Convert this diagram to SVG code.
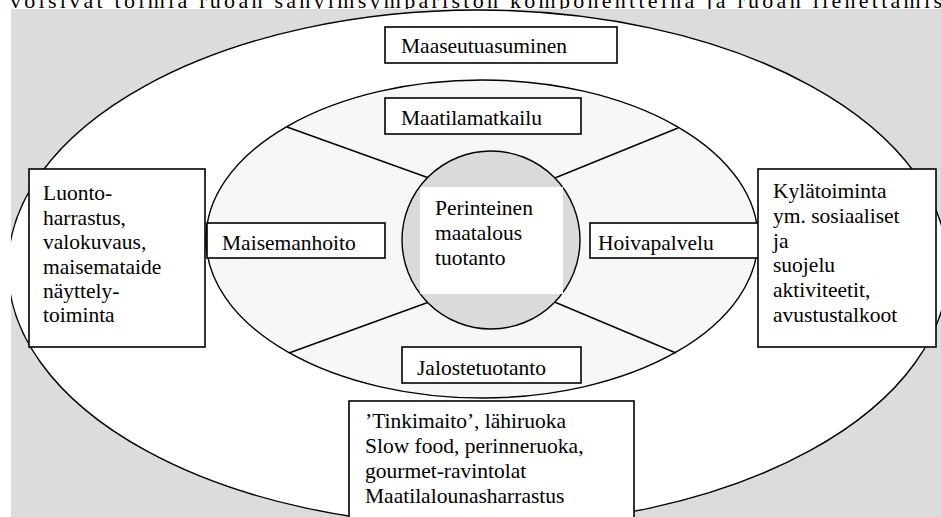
<svg xmlns="http://www.w3.org/2000/svg" width="941" height="517" viewBox="0 0 941 517" font-family="'Liberation Serif', 'Times New Roman', serif">
<defs>
<style>
text{font-family:"Liberation Serif","Times New Roman",serif;font-size:21.5px;fill:#000}
.box{fill:#fff;stroke:#000;stroke-width:1.6}
.ring{stroke:#000;stroke-width:1.4}
.spoke{stroke:#000;stroke-width:1.4;fill:none}
</style>
<clipPath id="pg"><rect x="11" y="9" width="930" height="508"/></clipPath>
</defs>
<rect width="941" height="517" fill="#fff"/>
<text x="10" y="8" style="font-size:22px" textLength="945" lengthAdjust="spacing">voisivat toimia ruoan sähyimsympäristön komponentteina ja ruoan lienettamise</text>
<rect x="11" y="9" width="930" height="508" fill="#dcdcdc"/>
<g clip-path="url(#pg)">
<g id="outer"><ellipse cx="478" cy="268" rx="470" ry="258" fill="#fff" class="ring"/></g>
<g id="maaseutuasuminen"><rect x="385" y="27" width="232" height="36" class="box"/><text x="401" y="53">Maaseutuasuminen</text></g>
<g id="inner"><ellipse cx="482" cy="239" rx="276" ry="159" fill="#f7f7f7" class="ring"/></g>
<g id="connectors">
<line x1="287" y1="127" x2="440" y2="182" class="spoke"/>
<line x1="678" y1="128" x2="545" y2="182" class="spoke"/>
<line x1="289" y1="353" x2="440" y2="298" class="spoke"/>
<line x1="676" y1="353" x2="545" y2="298" class="spoke"/>
</g>
<g id="maatilamatkailu"><rect x="385" y="98" width="196" height="36" class="box"/><text x="401" y="125">Maatilamatkailu</text></g>
<g id="jalostetuotanto"><rect x="402" y="347" width="179" height="36" class="box"/><text x="417" y="375">Jalostetuotanto</text></g>
<g id="maisemanhoito"><rect x="207" y="223" width="178" height="35" class="box"/><text x="222" y="250">Maisemanhoito</text></g>
<g id="hoivapalvelu"><rect x="590" y="223" width="170" height="35" class="box"/><text x="598" y="250">Hoivapalvelu</text></g>
<g id="core">
<circle cx="491" cy="240" r="89" fill="#dadada" class="ring"/>
<rect x="420" y="187" width="143" height="107" fill="#fff"/>
<text x="435" y="215">Perinteinen</text>
<text x="435" y="240">maatalous</text>
<text x="435" y="265">tuotanto</text>
</g>
<g id="luonto">
<rect x="29" y="169" width="176" height="178" class="box"/>
<text x="43" y="200">Luonto-</text>
<text x="43" y="224.5">harrastus,</text>
<text x="43" y="249">valokuvaus,</text>
<text x="43" y="273.5">maisemataide</text>
<text x="43" y="298">näyttely-</text>
<text x="43" y="322">toiminta</text>
</g>
<g id="kylatoiminta">
<rect x="758" y="169" width="178" height="178" class="box"/>
<text x="773" y="198">Kylätoiminta</text>
<text x="773" y="223">ym. sosiaaliset</text>
<text x="773" y="247.5">ja</text>
<text x="773" y="272">suojelu</text>
<text x="773" y="297">aktiviteetit,</text>
<text x="773" y="322">avustustalkoot</text>
</g>
<g id="ruoka">
<rect x="349" y="401" width="285" height="130" class="box"/>
<text x="365" y="428">’Tinkimaito’, lähiruoka</text>
<text x="365" y="453">Slow food, perinneruoka,</text>
<text x="365" y="477.5">gourmet-ravintolat</text>
<text x="365" y="502.5">Maatilalounasharrastus</text>
</g>
</g>
</svg>
